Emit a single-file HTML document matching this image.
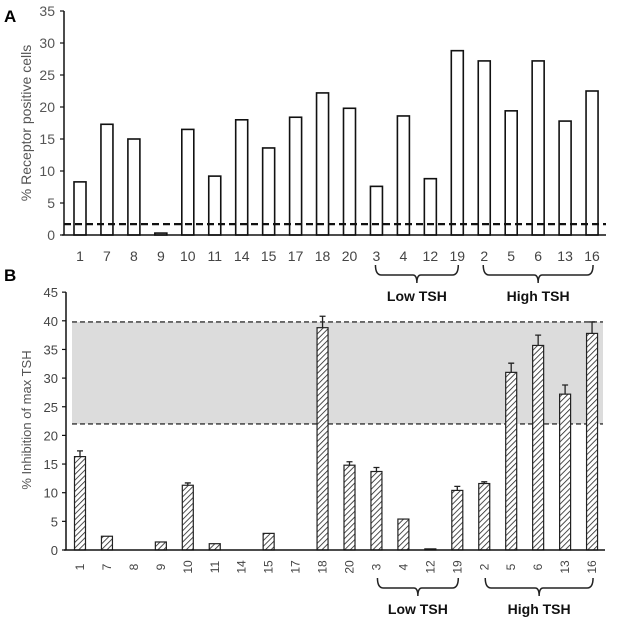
<!DOCTYPE html>
<html><head><meta charset="utf-8"><style>
body{margin:0;background:#fff;}
svg{display:block;font-family:"Liberation Sans",Arial,sans-serif;}
</style></head><body>
<svg id="fig" width="630" height="625" viewBox="0 0 630 625">
<defs>
<pattern id="hatch" width="4" height="4" patternUnits="userSpaceOnUse" patternTransform="rotate(45)">
<rect width="4" height="4" fill="#fff"/><line x1="0" y1="0" x2="0" y2="4" stroke="#222" stroke-width="1.6"/>
</pattern>
</defs>
<text x="4" y="22" font-size="17" font-weight="bold">A</text>
<text x="4" y="281" font-size="17" font-weight="bold">B</text>
<g id="gA"></g>
<g id="gB"></g>
</svg>
<script>
const categories = ["1","7","8","9","10","11","14","15","17","18","20","3","4","12","19","2","5","6","13","16"];
const receptorValues = [8.3,17.3,15,0.3,16.5,9.2,18,13.6,18.4,22.2,19.8,7.6,18.6,8.8,28.8,27.2,19.4,27.2,17.8,22.5];
const inhibitionValues = [16.3,2.4,0,1.4,11.3,1.1,0,2.9,0,38.8,14.8,13.7,5.4,0.2,10.4,11.6,31,35.7,27.2,37.8];
const inhibitionErrors = [1,0,0,0,0.4,0,0,0,0,2,0.6,0.7,0,0,0.7,0.3,1.6,1.8,1.6,2];
const ticksA = [0,5,10,15,20,25,30,35];
const ticksB = [0,5,10,15,20,25,30,35,40,45];
const thresholdA = 1.7;
const bandB = [22,39.8];

const NS="http://www.w3.org/2000/svg";
function mk(parent,tag,attrs,txt){const e=document.createElementNS(NS,tag);for(const k in attrs)e.setAttribute(k,attrs[k]);if(txt!=null)e.textContent=txt;parent.appendChild(e);return e;}
function xPos(i){return 80+i*26.95;}
const gA=document.getElementById('gA'), gB=document.getElementById('gB');

// Panel A
function yA(v){return 235-v*6.4;}
let ax=mk(gA,'line',{x1:64,y1:yA(0),x2:64,y2:yA(35),stroke:'#111','stroke-width':1.5});

ticksA.forEach(t=>{
  let l=mk(gA,'line',{x1:60,y1:yA(t),x2:64,y2:yA(t),stroke:'#111','stroke-width':1.2});
  
  let tx=mk(gA,'text',{x:55,y:yA(t)+5,'font-size':14,fill:'#555','text-anchor':'end'},t);
  
});
let ta=mk(gA,'text',{transform:'translate(31,123) rotate(-90)','font-size':14,fill:'#555','text-anchor':'middle'},'% Receptor positive cells');

receptorValues.forEach((v,i)=>{
  let r=mk(gA,'rect',{x:xPos(i)-6,y:yA(v),width:12,height:yA(0)-yA(v),fill:'#fff',stroke:'#111','stroke-width':1.6});
  
  let tx=mk(gA,'text',{x:xPos(i),y:261,'font-size':14,fill:'#444','text-anchor':'middle'},categories[i]);
  
});
let xa=mk(gA,'line',{x1:62,y1:yA(0),x2:606,y2:yA(0),stroke:'#111','stroke-width':1.6});

let th=mk(gA,'line',{x1:64,y1:yA(thresholdA),x2:606,y2:yA(thresholdA),stroke:'#111','stroke-width':2.2,'stroke-dasharray':'7,4'});


function brace(g,x1,x2,y,label,name){
  const m=(x1+x2)/2;
  let p=mk(g,'path',{d:`M${x1},${y} q0,10 6,10 L${m-4},${y+10} q4,0 4,8 q0,-8 4,-8 L${x2-6},${y+10} q6,0 6,-10`,fill:'none',stroke:'#222','stroke-width':1.5});
  
  let t=mk(g,'text',{x:m,y:y+36,'font-size':14,'font-weight':'bold','text-anchor':'middle',fill:'#111'},label);
  
}
brace(gA,xPos(11)-1,xPos(14)+1,265,'Low TSH','a-low-tsh');
brace(gA,xPos(15)-1,xPos(19)+1,265,'High TSH','a-high-tsh');

// Panel B
function yB(v){return 550-v*5.73;}
let band=mk(gB,'rect',{x:72,y:yB(bandB[1]),width:531,height:yB(bandB[0])-yB(bandB[1]),fill:'#dcdcdc'});

bandB.forEach(v=>{
  let l=mk(gB,'line',{x1:72,y1:yB(v),x2:603,y2:yB(v),stroke:'#333','stroke-width':1.3,'stroke-dasharray':'5,3'});
  
});
let bx=mk(gB,'line',{x1:66,y1:yB(0),x2:66,y2:yB(45),stroke:'#111','stroke-width':1.5});

ticksB.forEach(t=>{
  let l=mk(gB,'line',{x1:62,y1:yB(t),x2:66,y2:yB(t),stroke:'#111','stroke-width':1.2});
  
  let tx=mk(gB,'text',{x:58,y:yB(t)+5,'font-size':13,fill:'#444','text-anchor':'end'},t);
  
});
let tb=mk(gB,'text',{transform:'translate(31,420) rotate(-90)','font-size':13,fill:'#555','text-anchor':'middle'},'% Inhibition  of max TSH');

inhibitionValues.forEach((v,i)=>{
  const x=xPos(i);
  if(inhibitionErrors[i]>0){
    let e=mk(gB,'path',{d:`M${x},${yB(v)} V${yB(v+inhibitionErrors[i])} M${x-3},${yB(v+inhibitionErrors[i])} H${x+3}`,stroke:'#222','stroke-width':1.3,fill:'none'});
    
  }
  if(v>0){
    let r=mk(gB,'rect',{x:x-5.5,y:yB(v),width:11,height:yB(0)-yB(v),fill:'url(#hatch)',stroke:'#222','stroke-width':1.2});
    
  }
  let tx=mk(gB,'text',{transform:`translate(${x+4},567) rotate(-90)`,'font-size':12,fill:'#444','text-anchor':'middle'},categories[i]);
  
});
let bxa=mk(gB,'line',{x1:64,y1:yB(0),x2:605,y2:yB(0),stroke:'#111','stroke-width':1.6});

brace(gB,xPos(11)+1,xPos(14)+1,578,'Low TSH','b-low-tsh');
brace(gB,xPos(15)+1,xPos(19)+1,578,'High TSH','b-high-tsh');
</script>
</body></html>
